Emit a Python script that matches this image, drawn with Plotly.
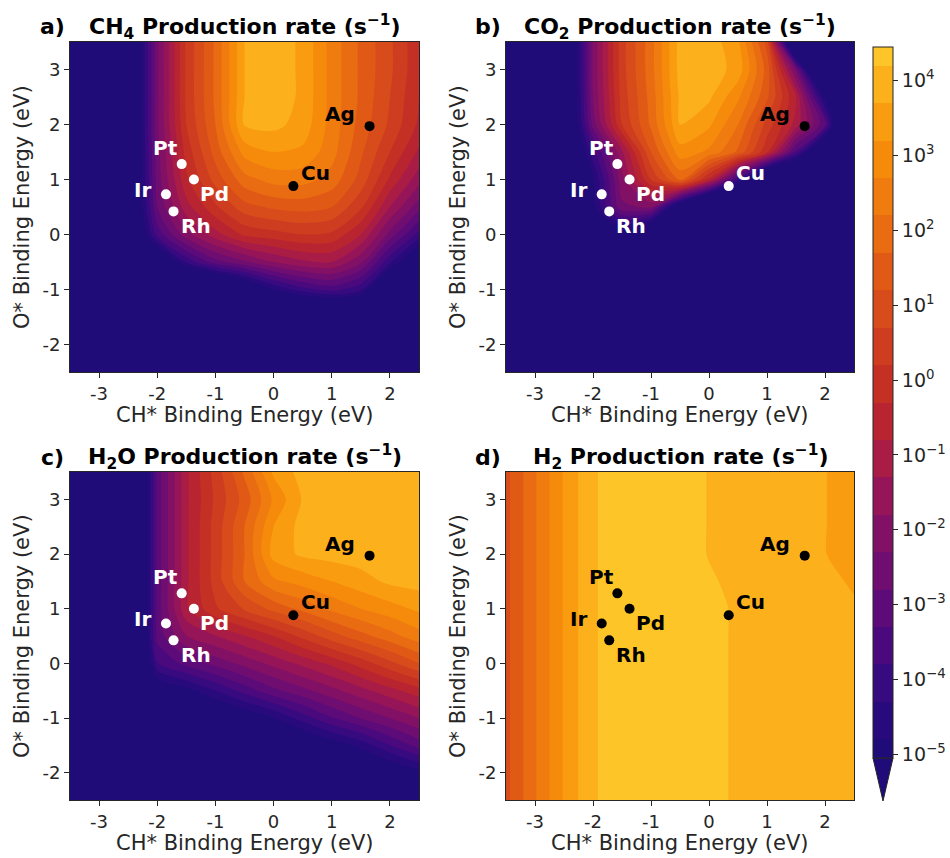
import plotly.graph_objects as go

# Binding-energy grid (eV)
ch_be = [-3.5, -3.0, -2.5, -2.0, -1.5, -1.0, -0.5, 0.0, 0.5, 1.0, 1.5, 2.0, 2.5]
o_be_desc = [3.5, 3.0, 2.5, 2.0, 1.5, 1.0, 0.5, 0.0, -0.5, -1.0, -1.5, -2.0, -2.5]

# log10 production rates (s^-1); rows follow o_be_desc, columns follow ch_be
log_ch4 = [
    [-9, -9, -6.8, -2.4, 0.3, 1.8, 3.7, 4.0, 3.6, 2.5, 1.6, 0.8, -0.2],
    [-9, -9, -6.8, -2.4, 0.3, 1.8, 3.7, 4.0, 3.6, 2.5, 1.6, 0.8, -0.2],
    [-9, -9, -6.8, -2.4, 0.3, 1.8, 3.7, 4.0, 3.6, 2.5, 1.6, 0.7, -0.3],
    [-9, -9, -6.8, -2.4, 0.2, 1.7, 3.75, 3.85, 3.5, 2.5, 1.5, 0.6, -0.4],
    [-9, -9, -6.8, -2.5, -0.1, 1.4, 2.9, 3.2, 3.1, 2.4, 1.3, 0.2, -0.9],
    [-9, -9, -6.8, -2.6, -0.4, 0.9, 2.0, 2.4, 2.4, 2.0, 1.0, -0.4, -1.6],
    [-9, -9, -6.8, -2.8, -1.0, 0.1, 1.0, 1.3, 1.4, 1.2, 0.3, -1.3, -2.6],
    [-9, -9, -7.0, -3.6, -2.0, -1.0, -0.2, 0.0, 0.2, 0.1, -0.8, -2.5, -4.0],
    [-9, -9, -8.5, -6.5, -4.2, -3.0, -2.4, -1.8, -1.4, -1.3, -2.2, -4.2, -6.0],
    [-9, -9, -9, -9, -8.0, -7.5, -6.2, -4.8, -4.0, -3.6, -4.2, -7.0, -9],
    [-9, -9, -9, -9, -9, -9, -9, -8.5, -8.0, -7.5, -7.5, -9, -9],
    [-9, -9, -9, -9, -9, -9, -9, -9, -9, -9, -9, -9, -9],
    [-9, -9, -9, -9, -9, -9, -9, -9, -9, -9, -9, -9, -9],
]

log_co2 = [
    [-9, -9, -7.0, -2.2, 0.5, 2.0, 3.9, 4.0, 3.3, 1.0, -8, -9, -9],
    [-9, -9, -7.0, -2.2, 0.5, 2.0, 3.9, 4.0, 3.5, 1.5, -2.5, -9, -9],
    [-9, -9, -7.0, -2.3, 0.4, 1.9, 3.8, 3.8, 2.8, 1.3, -0.8, -5.0, -9],
    [-9, -9, -7.0, -2.6, 0.2, 1.8, 3.7, 3.3, 2.2, 0.5, -1.0, -3.2, -9],
    [-9, -9, -7.0, -4.0, -1.4, 1.2, 3.0, 2.6, 1.6, -0.2, -3.5, -7.0, -9],
    [-9, -9, -8.0, -4.9, -2.0, 0.2, 1.8, -0.5, -4.0, -8.0, -9, -9, -9],
    [-9, -9, -9, -5.0, -2.4, -2.2, -6.0, -9, -9, -9, -9, -9, -9],
    [-9, -9, -9, -9, -5.5, -7.0, -9, -9, -9, -9, -9, -9, -9],
    [-9, -9, -9, -9, -9, -9, -9, -9, -9, -9, -9, -9, -9],
    [-9, -9, -9, -9, -9, -9, -9, -9, -9, -9, -9, -9, -9],
    [-9, -9, -9, -9, -9, -9, -9, -9, -9, -9, -9, -9, -9],
    [-9, -9, -9, -9, -9, -9, -9, -9, -9, -9, -9, -9, -9],
    [-9, -9, -9, -9, -9, -9, -9, -9, -9, -9, -9, -9, -9],
]

log_h2o = [
    [-9, -9, -8.5, -3.1, -0.9, 0.4, 1.8, 3.3, 3.9, 4.0, 4.0, 4.0, 4.0],
    [-9, -9, -8.5, -3.1, -0.9, 0.3, 1.4, 2.8, 3.75, 4.0, 4.0, 4.0, 4.0],
    [-9, -9, -8.5, -3.1, -0.9, 0.4, 1.7, 3.2, 3.9, 4.0, 4.0, 4.0, 4.0],
    [-9, -9, -8.5, -3.1, -0.9, 0.4, 1.7, 3.4, 3.8, 3.9, 3.95, 4.0, 4.0],
    [-9, -9, -8.5, -3.1, -0.9, 0.4, 1.7, 2.6, 2.9, 3.2, 3.5, 3.8, 3.9],
    [-9, -9, -8.5, -3.1, -0.9, 0.13, 0.76, 1.36, 1.84, 2.33, 2.7, 3.0, 3.3],
    [-9, -9, -8.5, -3.1, -1.81, -1.32, -0.83, -0.3, 0.34, 0.98, 1.52, 2.01, 2.5],
    [-9, -9, -8.5, -3.83, -3.12, -2.62, -2.13, -1.64, -1.16, -0.67, -0.08, 0.56, 1.2],
    [-9, -9, -9, -5.58, -5.01, -4.3, -3.59, -2.94, -2.46, -1.97, -1.48, -0.99, -0.5],
    [-9, -9, -9, -7.08, -6.51, -5.95, -5.38, -4.82, -4.06, -3.34, -2.78, -2.29, -1.8],
    [-9, -9, -9, -8.6, -8.0, -7.45, -6.88, -6.32, -5.76, -5.19, -4.63, -3.81, -3.1],
    [-9, -9, -9, -9, -9, -8.9, -8.4, -7.8, -7.26, -6.7, -6.13, -5.56, -5.0],
    [-9, -9, -9, -9, -9, -9, -9, -9.3, -8.8, -8.2, -7.6, -7.06, -6.5],
]

log_h2 = [
    [1.05, 2.15, 3.25, 4.17, 4.35, 4.45, 4.4, 4.18, 4.05, 4.0, 3.9, 3.71, 3.55],
    [1.05, 2.15, 3.25, 4.17, 4.35, 4.45, 4.4, 4.18, 4.05, 4.0, 3.9, 3.71, 3.55],
    [1.05, 2.15, 3.25, 4.17, 4.35, 4.45, 4.4, 4.18, 4.05, 4.0, 3.9, 3.71, 3.55],
    [1.05, 2.15, 3.25, 4.17, 4.35, 4.45, 4.4, 4.18, 4.05, 4.0, 3.9, 3.71, 3.55],
    [1.05, 2.15, 3.25, 4.17, 4.35, 4.45, 4.4, 4.25, 4.1, 4.02, 3.95, 3.8, 3.65],
    [1.05, 2.15, 3.25, 4.17, 4.35, 4.45, 4.4, 4.3, 4.15, 4.05, 4.0, 3.9, 3.75],
    [1.05, 2.15, 3.25, 4.17, 4.35, 4.45, 4.4, 4.3, 4.15, 4.05, 4.0, 3.95, 3.85],
    [1.05, 2.15, 3.25, 4.17, 4.35, 4.45, 4.4, 4.3, 4.15, 4.05, 4.0, 3.95, 3.85],
    [1.05, 2.15, 3.25, 4.17, 4.35, 4.45, 4.4, 4.3, 4.15, 4.05, 4.0, 3.95, 3.85],
    [1.05, 2.15, 3.25, 4.17, 4.35, 4.45, 4.4, 4.3, 4.15, 4.05, 4.0, 3.95, 3.85],
    [1.05, 2.15, 3.25, 4.17, 4.35, 4.45, 4.4, 4.3, 4.15, 4.05, 4.0, 3.95, 3.85],
    [1.05, 2.15, 3.25, 4.17, 4.35, 4.45, 4.4, 4.3, 4.15, 4.05, 4.0, 3.95, 3.85],
    [1.05, 2.15, 3.25, 4.17, 4.35, 4.45, 4.4, 4.3, 4.15, 4.05, 4.0, 3.95, 3.85],
]

# Metal surfaces: CH* and O* binding energies (eV)
metals = ["Pt", "Pd", "Ir", "Rh", "Cu", "Ag"]
metal_ch = [-1.58, -1.37, -1.85, -1.72, 0.34, 1.65]
metal_o = [1.28, 1.00, 0.73, 0.42, 0.88, 1.97]
label_shift = {"Pt": (-16, 16), "Pd": (21, -14), "Ir": (-23, 4),
               "Rh": (22, -15), "Cu": (22, 13), "Ag": (-30, 12)}

x_ticks = [-3, -2, -1, 0, 1, 2]
y_ticks = [-2, -1, 0, 1, 2, 3]
cbar_exps = [-5, -4, -3, -2, -1, 0, 1, 2, 3, 4]

# Filled-contour levels in log10 units and one colour per band (low -> high)
level_start, level_end, level_step = -4.8, 4.2, 0.5
band_colors = [
    "#1f0c78", "#280a7d", "#370a80", "#4a0a7d", "#5c0b78", "#6f0e70",
    "#821166", "#951558", "#a81c46", "#b82530", "#c53025", "#cf3d20",
    "#d84b1b", "#e05a16", "#e96b12", "#f07b0e", "#f68a0b", "#fa9c10",
    "#fcb01b", "#fdc527",
]
colorscale = [[i / (len(band_colors) - 1), c] for i, c in enumerate(band_colors)]

FONT = "DejaVu Sans"
W, H = 950, 858
INK = "#262626"
CB_TOP, CB_BOTTOM, CB_TIP = 47, 758, 801

# panel boxes in pixels: (left, right, top, bottom)
boxes = [(70, 419, 42, 372), (506, 854, 42, 372),
         (70, 419, 472, 800), (506, 854, 472, 800)]

panels = [
    dict(z=log_ch4, species="CH<sub>4</sub>", tag="a)", light={"Pt", "Pd", "Ir", "Rh"}),
    dict(z=log_co2, species="CO<sub>2</sub>", tag="b)", light={"Pt", "Pd", "Ir", "Rh", "Cu"}),
    dict(z=log_h2o, species="H<sub>2</sub>O", tag="c)", light={"Pt", "Pd", "Ir", "Rh"}),
    dict(z=log_h2, species="H<sub>2</sub>", tag="d)", light=set()),
]

fig = go.Figure()
annotations = []
layout_axes = {}

for i, (p, (l, r, t, b)) in enumerate(zip(panels, boxes)):
    n = "" if i == 0 else str(i + 1)
    xa, ya = "x" + n, "y" + n
    fig.add_trace(go.Contour(
        x=ch_be, y=o_be_desc[::-1], z=p["z"][::-1],
        xaxis=xa, yaxis=ya,
        colorscale=colorscale,
        contours=dict(start=level_start, end=level_end, size=level_step,
                      coloring="fill", showlines=False),
        line=dict(width=0, smoothing=0.8),
        showscale=(i == 0),
        colorbar=dict(
            x=873 / W, xanchor="left", y=1 - CB_BOTTOM / H, yanchor="bottom",
            len=(CB_BOTTOM - CB_TOP) / H, lenmode="fraction",
            thickness=20, thicknessmode="pixels", xpad=0, ypad=0,
            outlinewidth=1, outlinecolor=INK,
            tickvals=cbar_exps,
            ticktext=["10<sup>%s</sup>" % str(e).replace("-", "\u2212") for e in cbar_exps],
            ticks="outside", ticklen=5, tickcolor=INK,
            tickfont=dict(family=FONT, size=19, color=INK),
        ),
        hoverinfo="skip",
    ))
    cols = ["white" if m in p["light"] else "black" for m in metals]
    fig.add_trace(go.Scatter(
        x=metal_ch, y=metal_o, mode="markers", xaxis=xa, yaxis=ya,
        marker=dict(size=10, color=cols, line=dict(width=0)),
        showlegend=False, hoverinfo="skip",
    ))
    for m, cx, cy, c in zip(metals, metal_ch, metal_o, cols):
        dx, dy = label_shift[m]
        annotations.append(dict(
            x=cx, y=cy, xref=xa, yref=ya, text="<b>%s</b>" % m, showarrow=False,
            xshift=dx, yshift=dy, font=dict(family=FONT, size=20, color=c),
        ))

    axis_common = dict(showline=True, mirror=True, linecolor=INK, linewidth=1,
                       ticks="outside", ticklen=5, tickwidth=1, tickcolor=INK,
                       showgrid=False, zeroline=False,
                       tickfont=dict(family=FONT, size=18, color=INK))
    layout_axes["xaxis" + n] = dict(
        domain=[l / W, r / W], anchor=ya, range=[-3.5, 2.5],
        tickvals=x_ticks, ticktext=[str(v) for v in x_ticks], **axis_common)
    layout_axes["yaxis" + n] = dict(
        domain=[1 - b / H, 1 - t / H], anchor=xa, range=[-2.5, 3.5],
        tickvals=y_ticks, ticktext=[str(v) for v in y_ticks], **axis_common)

    cx_px = (l + r) / 2
    title_y = t - 15
    annotations.append(dict(
        x=cx_px / W, y=1 - title_y / H, xref="paper", yref="paper",
        text="<b>%s Production rate (s<sup>\u22121</sup>)</b>" % p["species"],
        showarrow=False, xanchor="center", yanchor="middle",
        font=dict(family=FONT, size=22, color="black")))
    annotations.append(dict(
        x=(l - 18) / W, y=1 - title_y / H, xref="paper", yref="paper",
        text="<b>%s</b>" % p["tag"], showarrow=False,
        xanchor="center", yanchor="middle",
        font=dict(family=FONT, size=22, color="black")))
    annotations.append(dict(
        x=cx_px / W, y=1 - (b + 43) / H, xref="paper", yref="paper",
        text="CH* Binding Energy (eV)", showarrow=False,
        xanchor="center", yanchor="middle",
        font=dict(family=FONT, size=21, color=INK)))
    annotations.append(dict(
        x=(l - 48) / W, y=1 - ((t + b) / 2) / H, xref="paper", yref="paper",
        text="O* Binding Energy (eV)", showarrow=False, textangle=-90,
        xanchor="center", yanchor="middle",
        font=dict(family=FONT, size=21, color=INK)))

# extension triangle below the colour bar
shapes = [dict(
    type="path", xref="paper", yref="paper",
    path="M %f,%f L %f,%f L %f,%f Z" % (873 / W, 1 - CB_BOTTOM / H, 893 / W, 1 - CB_BOTTOM / H,
                                         883 / W, 1 - CB_TIP / H),
    fillcolor=band_colors[0], line=dict(color=INK, width=1),
)]

fig.update_layout(
    width=W, height=H, margin=dict(l=0, r=0, t=0, b=0),
    paper_bgcolor="white", plot_bgcolor=band_colors[0],
    font=dict(family=FONT, color=INK),
    showlegend=False, annotations=annotations, shapes=shapes,
    **layout_axes,
)

fig.write_html("out.html")
